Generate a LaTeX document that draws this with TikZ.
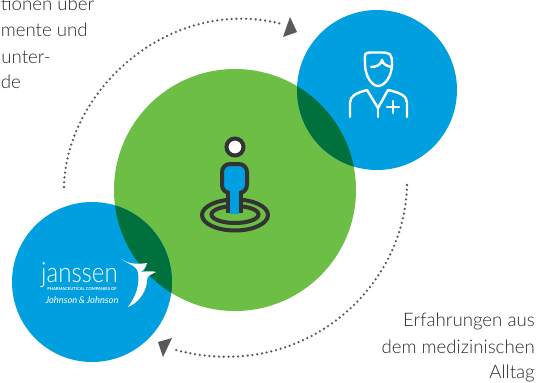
\documentclass[tikz,border=0pt]{standalone}
\usepackage{fontspec}
\setmainfont{Lato Light}
\newfontfamily\logofont{Lato Light}
\newfontfamily\smallfont{Lato}
\definecolor{cblue}{HTML}{009FDF}
\definecolor{cgreen}{HTML}{6CBE45}
\definecolor{cdark}{HTML}{00703C}
\definecolor{cink}{HTML}{333333}
\definecolor{ctext}{HTML}{2B2B2B}
\definecolor{carrow}{HTML}{58595B}
\tikzset{
 blob/.style={circle,inner sep=0pt,minimum size=#1},
 captxt/.style={font=\fontsize{14}{16}\selectfont, text=ctext, inner sep=0pt},
 dots/.style={line width=1.9pt,color=carrow,dash pattern=on 0pt off 3.6pt,line cap=round},
 wline/.style={draw=white,line width=1.8pt,line cap=round,line join=round},
 iconline/.style={draw=cink,line width=3pt},
}
\begin{document}
\begin{tikzpicture}[x=0.75pt,y=-0.75pt]
\useasboundingbox (0,0) rectangle (537,383);
% circles
\node[blob=181.5pt,fill=cgreen] (main) at (235,190) {};
\node[blob=120pt,fill=cblue] (doc) at (377,90) {};
\node[blob=120pt,fill=cblue] (jan) at (92,282) {};
\begin{scope}
 \clip (235,190) circle[radius=121];
 \fill[cdark] (377,90) circle[radius=80];
 \fill[cdark] (92,282) circle[radius=80];
\end{scope}
% dotted arcs
\coordinate (a1s) at (64,187);
\coordinate (a1e) at (282,24);
\coordinate (a2s) at (407,185);
\coordinate (a2e) at (172,349);
\draw[dots] (a1s) .. controls (66,90) and (170,-5) .. (a1e);
\draw[dots] (a2s) .. controls (405,290) and (300,385) .. (a2e);
\fill[carrow] (290,17) -- (297,32) -- (283,37) -- cycle;
\fill[carrow] (158,342) -- (172,338) -- (163,357) -- cycle;
% person icon
\draw[iconline] (235,215) ellipse[x radius=33,y radius=15.5];
\draw[iconline] (235,214.5) ellipse[x radius=23.5,y radius=8.5];
\fill[cgreen] (228,192) rectangle (241,217);
\draw[cink,line width=3pt] (228,190) -- (228,213) (241,190) -- (241,213);
\fill[cblue,draw=cink,line width=3pt,rounded corners=6pt] (222,164) rectangle (247,193);
\fill[cblue] (230,188) rectangle (239,214);
% head
\draw[cink,line width=3pt,fill=white] (235,147) circle[radius=8.5];
% doctor icon
\draw[wline] (373,52.5) .. controls (363,52.5) and (365,53) .. (365,64)
  .. controls (365,76) and (372,86) .. (378,86) .. controls (385,86) and (392,76) .. (392,64)
  .. controls (392,53) and (390,52.5) .. (380,52.5) -- cycle;
\draw[wline] (371,67) .. controls (376,67) and (381,65) .. (382,60) .. controls (383,65) and (388,66) .. (391,67);
\draw[wline] (350,117) -- (350,103) .. controls (350,96) and (356,93) .. (367,90) -- (378,108) -- (388,90)
  .. controls (401,93) and (407,96) .. (407,103) -- (407,117);
\draw[wline] (378,108) -- (378,117);
\draw[wline,line width=1.8pt] (387,107) -- (399,107) (393,101) -- (393,113);
% janssen logo
\node[inner sep=0pt,anchor=base,text=white,font=\logofont\fontsize{21}{21}\selectfont,xscale=0.86,transform shape] (jname) at (79.5,282) {janssen};
\node[inner sep=0pt,text=white,font=\smallfont\fontsize{3.1}{3}\selectfont\bfseries] (jsub) at (82,289.5) {PHARMACEUTICAL COMPANIES OF};
\node[inner sep=0pt,text=white,font=\smallfont\fontsize{7}{8}\selectfont\itshape] (jj) at (82,300.5) {Johnson\,\&\,Johnson};
\fill[white] (121,259) .. controls (130,265) and (140,264) .. (147,263) .. controls (146,267) and (144,270) .. (141,272)
  .. controls (148,271) and (153,271) .. (156,272) .. controls (150,275) and (147,276) .. (147,280)
  .. controls (147,292) and (137,304) .. (128,307) .. controls (136,296) and (140,285) .. (138,272)
  .. controls (137,266) and (128,264) .. (121,259) -- cycle;
% captions
\node[captxt,anchor=base west] (c1) at (0.5,10) {tionen über};
\node[captxt,anchor=base west] (c2) at (0.5,36) {mente und};
\node[captxt,anchor=base east] (c3) at (51,63) {unter-};
\node[captxt,anchor=base west] (c4) at (0.5,88) {de};
\node[captxt,anchor=east] (c5) at (535,321) {Erfahrungen aus};
\node[captxt,anchor=east] (c6) at (535,347) {dem medizinischen};
\node[captxt,anchor=east] (c7) at (535,373) {Alltag};
\end{tikzpicture}
\end{document}
